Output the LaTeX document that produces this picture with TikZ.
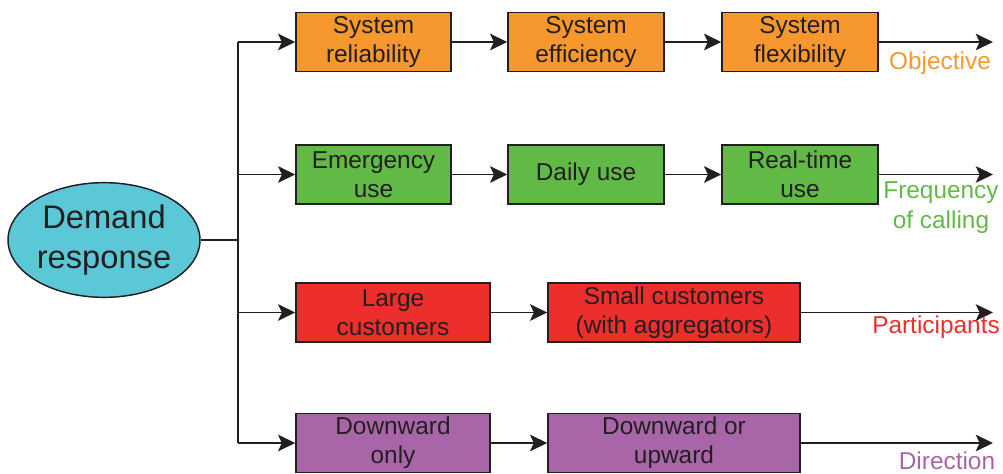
\documentclass[tikz,border=0pt]{standalone}
\usepackage{fontspec}
\setmainfont{Liberation Sans}
\usetikzlibrary{arrows.meta,shapes.geometric}
\definecolor{cOr}{HTML}{F7982E}
\definecolor{cGr}{HTML}{62BA46}
\definecolor{cRd}{HTML}{EC2E2C}
\definecolor{cPu}{HTML}{A866A8}
\definecolor{cCy}{HTML}{5BC8D8}
\definecolor{cLn}{HTML}{231F20}
\tikzset{
  box/.style={draw=cLn, line width=1.1pt, minimum height=44.5pt, inner sep=0pt, align=center,
    font=\fontsize{18.3}{21.75}\selectfont, text=cLn},
  lbl/.style={align=center, font=\fontsize{18.3}{22.5}\selectfont, inner sep=0pt},
  conn/.style={draw=cLn, line width=1.1pt},
  arr/.style={conn, -{Stealth[length=13pt,width=12.5pt,inset=3pt]}},
}
\begin{document}
\begin{tikzpicture}[x=0.75pt,y=-0.75pt]
\useasboundingbox (0,0) rectangle (1003,474);
% root
\node[ellipse, draw=cLn, line width=1.1pt, fill=cCy, minimum width=144pt, minimum height=86pt,
  inner sep=0pt, align=center, font=\fontsize{24.5}{29.5}\selectfont, text=cLn] (dr) at (104,240) {Demand\\response};
\coordinate (t1) at (238,42);
\coordinate (t2) at (238,174.5);
\coordinate (t3) at (238,312.5);
\coordinate (t4) at (238,443);
% row 1
\node[box, fill=cOr, minimum width=116.25pt] (a1) at (373.5,42) {System\\reliability};
\node[box, fill=cOr, minimum width=117pt] (a2) at (586,42) {System\\efficiency};
\node[box, fill=cOr, minimum width=117pt] (a3) at (800,42) {System\\flexibility};
\coordinate (e1) at (993,42);
% row 2
\node[box, fill=cGr, minimum width=116.25pt] (b1) at (373.5,174.5) {Emergency\\use};
\node[box, fill=cGr, minimum width=117pt] (b2) at (586,174.5) {Daily use};
\node[box, fill=cGr, minimum width=117pt] (b3) at (800,174.5) {Real-time\\use};
\coordinate (e2) at (993,174.5);
% row 3
\node[box, fill=cRd, minimum width=145.5pt] (c1) at (393,312.5) {Large\\customers};
\node[box, fill=cRd, minimum width=189pt] (c2) at (674,312.5) {Small customers\\(with aggregators)};
\coordinate (e3) at (993,312.5);
% row 4
\node[box, fill=cPu, minimum width=145.5pt] (d1) at (393,443) {Downward\\only};
\node[box, fill=cPu, minimum width=189pt] (d2) at (674,443) {Downward or\\upward};
\coordinate (e4) at (993,443);
% labels
\node[lbl, text=cOr] (l1) at (940,63) {Objective};
\node[lbl, text=cGr] (l2) at (941,208) {Frequency\\of calling};
\node[lbl, text=cRd] (l3) at (936,327) {Participants};
\node[lbl, text=cPu] (l4) at (947,461) {Direction};
% connectors
\draw[conn] (dr.east) -- (dr.east -| t1);
\draw[conn] (t1) -- (t4);
\draw[arr] (t1) -- (a1.west);
\draw[arr] (t2) -- (b1.west);
\draw[arr] (t3) -- (c1.west);
\draw[arr] (t4) -- (d1.west);
\draw[arr] (a1) -- (a2);
\draw[arr] (a2) -- (a3);
\draw[arr] (a3.east) -- (e1);
\draw[arr] (b1) -- (b2);
\draw[arr] (b2) -- (b3);
\draw[arr] (b3.east) -- (e2);
\draw[arr] (c1) -- (c2);
\draw[arr] (c2.east) -- (e3);
\draw[arr] (d1) -- (d2);
\draw[arr] (d2.east) -- (e4);
\end{tikzpicture}
\end{document}
